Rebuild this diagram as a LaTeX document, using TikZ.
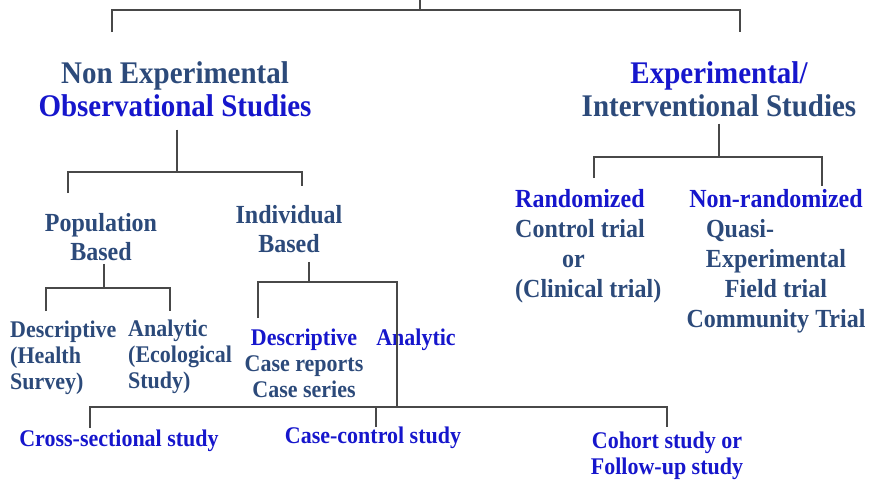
\documentclass[tikz,border=0pt]{standalone}
\usepackage{fontspec}
\setmainfont{Liberation Serif}[FakeStretch=0.92]
\usetikzlibrary{positioning}
\definecolor{darkblue}{RGB}{44,74,122}
\definecolor{brightblue}{RGB}{22,22,204}
\definecolor{linegray}{RGB}{72,72,72}

\begin{document}
\begin{tikzpicture}[x=1pt, y=-1pt,
    conn/.style={draw=linegray, line width=1.3pt},
    lvlone/.style={inner sep=0pt, anchor=north, align=center, text=darkblue, font=\fontsize{31.5}{33}\selectfont\bfseries},
    lvltwo/.style={inner sep=0pt, anchor=north, align=center, text=darkblue, font=\fontsize{26.1}{29}\selectfont\bfseries},
    trialbox/.style={lvltwo, font=\fontsize{26.1}{30}\selectfont\bfseries},
    lvlthree/.style={inner sep=0pt, anchor=north, align=center, text=darkblue, font=\fontsize{23.9}{26}\selectfont\bfseries},
    leaf/.style={lvlthree, text=brightblue}]
  \useasboundingbox (0,0) rectangle (869,479);

  % study types
  \node[lvlone] (nonexp) at (175,61) {Non Experimental\\\textcolor{brightblue}{Observational Studies}};
  \node[lvlone] (exper) at (719,61) {\textcolor{brightblue}{Experimental/}\\Interventional Studies};

  \node[lvltwo] (popbased) at (101,213) {Population\\Based};
  \node[lvltwo] (indbased) at (289,205) {Individual\\Based};
  \node[trialbox, anchor=north west, align=left] (randtrial) at (515,189) {\textcolor{brightblue}{Randomized}\\Control trial\\\hspace*{1.8em}or\\(Clinical trial)};
  \node[trialbox] (nonrand) at (776,189) {\textcolor{brightblue}{Non-randomized}\\\makebox[140pt][l]{Quasi-}\\Experimental\\Field trial\\Community Trial};

  \node[lvlthree, anchor=north west, align=left] (descpop) at (10,320.5) {Descriptive\\(Health\\Survey)};
  \node[lvlthree, anchor=north west, align=left] (analpop) at (128,320) {Analytic\\(Ecological\\Study)};
  \node[lvlthree] (descind) at (304,328.5) {\textcolor{brightblue}{Descriptive}\\Case reports\\Case series};
  \node[leaf] (analind) at (416,328.5) {Analytic};

  \node[leaf] (crosssec) at (119,429.5) {Cross-sectional study};
  \node[leaf] (casectrl) at (373,426.5) {Case-control study};
  \node[leaf] (cohort) at (667,431.5) {Cohort study or\\Follow-up study};

  % junctions
  \coordinate (root) at (420,0);
  \coordinate (topbus) at (420,10);
  \coordinate (nonexpdrop) at (112,32);
  \coordinate (expdrop) at (740,32);
  \coordinate (obsbus) at (177,172);
  \coordinate (popdrop) at (68,193);
  \coordinate (inddrop) at (302,186);
  \coordinate (popbus) at (104,288);
  \coordinate (descpopdrop) at (46,311);
  \coordinate (analpopdrop) at (170,311);
  \coordinate (indbus) at (309,282);
  \coordinate (descinddrop) at (258,318);
  \coordinate (botbus) at (397,407);
  \coordinate (crossdrop) at (90,428);
  \coordinate (casedrop) at (376,427);
  \coordinate (cohortdrop) at (667,427);
  \coordinate (trialbus) at (719,157);
  \coordinate (randdrop) at (594,178);
  \coordinate (nonranddrop) at (822,186);

  % connectors
  \draw[conn] (root) -- (topbus);
  \draw[conn] (nonexpdrop) |- (topbus) -| (expdrop);
  \draw[conn] (nonexp.south) ++(2,13) -- (obsbus);
  \draw[conn] (popdrop) |- (obsbus) -| (inddrop);
  \draw[conn] (popbased.south) ++(3,3) -- (popbus);
  \draw[conn, line width=2pt] (descpopdrop) |- (popbus) -| (analpopdrop);
  \draw[conn] (indbased.south) ++(20,9) -- (indbus);
  \draw[conn] (descinddrop) |- (indbus) -| (botbus);
  \draw[conn] (crossdrop) |- (botbus) -| (cohortdrop);
  \draw[conn] (casedrop) -- (casedrop |- botbus);
  \draw[conn] (exper.south) ++(0,7) -- (trialbus);
  \draw[conn] (randdrop) |- (trialbus) -| (nonranddrop);
\end{tikzpicture}
\end{document}
